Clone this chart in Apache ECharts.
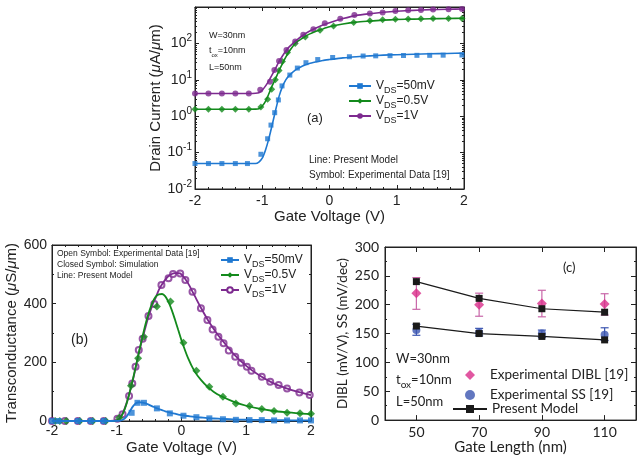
<!DOCTYPE html>
<html>
<head>
<meta charset="utf-8">
<script src="https://cdn.jsdelivr.net/npm/echarts@6/dist/echarts.min.js"></script>
<style>
  html, body { margin: 0; padding: 0; background: #fff; }
  #chart { width: 637px; height: 456px; }
</style>
</head>
<body>
<div id="chart"></div>
<script>
// ---------- (a) drain current vs gate voltage ----------
const vgModelA = [-2, -1.5, -1.2, -1.1, -1.05, -1.0, -0.95, -0.9, -0.85, -0.8, -0.75, -0.7, -0.65, -0.6, -0.5, -0.4, -0.3, -0.2, -0.1, 0, 0.2, 0.4, 0.6, 0.8, 1.0, 1.25, 1.5, 1.75, 2.0];
const idModel50mV = [0.05, 0.05, 0.05, 0.05, 0.055, 0.07, 0.12, 0.25, 0.6, 1.5, 3.5, 6.5, 10, 13, 19, 24, 28, 31, 34, 36, 40, 43, 45.5, 47.5, 49, 50.5, 52, 53, 54];
const idModel05V = [1.55, 1.55, 1.55, 1.56, 1.6, 1.9, 2.6, 4.2, 7, 11, 18, 28, 42, 60, 105, 140, 180, 215, 250, 285, 340, 385, 410, 435, 452, 465, 475, 483, 490];
const idModel1V = [4.2, 4.2, 4.2, 4.25, 4.4, 5.2, 6.8, 9.5, 14, 21, 32, 45, 62, 80, 118, 165, 215, 265, 320, 370, 480, 590, 655, 715, 765, 810, 845, 868, 885];

const vgExp50mV = [-2, -1.8, -1.6, -1.4, -1.22, -1.02, -0.92, -0.87, -0.815, -0.76, -0.706, -0.59, -0.478, -0.35, -0.175, 0.047, 0.296, 0.5, 0.687, 0.9, 1.1, 1.3, 1.49, 1.69, 1.97];
const idExp50mV = [0.05, 0.05, 0.05, 0.05, 0.05, 0.09, 0.24, 0.57, 1.25, 2.8, 6.8, 13.5, 21, 29.5, 36, 41, 43, 45, 45.5, 46, 46.5, 47, 47, 47.5, 48];
const vgExp05V = [-2, -1.8, -1.6, -1.4, -1.2, -1.02, -0.92, -0.86, -0.806, -0.75, -0.70, -0.625, -0.51, -0.36, -0.14, 0.06, 0.36, 0.6, 0.79, 0.98, 1.17, 1.36, 1.54, 1.77, 1.97];
const idExp05V = [1.55, 1.55, 1.55, 1.55, 1.55, 1.8, 2.9, 5.5, 10, 18, 32, 56, 100, 150, 230, 300, 375, 420, 445, 460, 470, 475, 480, 480, 485];
const vgExp1V = [-2, -1.8, -1.6, -1.4, -1.2, -1.03, -0.885, -0.82, -0.75, -0.64, -0.51, -0.39, -0.24, -0.07, 0.16, 0.37, 0.6, 0.79, 0.98, 1.17, 1.36, 1.54, 1.77, 1.97];
const idExp1V = [4.2, 4.2, 4.2, 4.2, 4.2, 5.3, 8.9, 18.6, 33, 66, 112, 174, 245, 357, 475, 600, 660, 710, 780, 810, 830, 850, 870, 880];

// ---------- (b) transconductance vs gate voltage ----------
const vgModelB = [-2, -1.5, -1.1, -1.0, -0.95, -0.9, -0.85, -0.8, -0.75, -0.7, -0.65, -0.6, -0.55, -0.5, -0.45, -0.4, -0.35, -0.3, -0.25, -0.2, -0.15, -0.1, -0.05, 0, 0.1, 0.2, 0.3, 0.4, 0.5, 0.6, 0.8, 1.0, 1.2, 1.4, 1.6, 1.8, 2.0];
const gmModel50mV = [0, 0, 0, 0.5, 1, 5, 15, 32, 50, 61, 64, 63, 60, 55, 50, 45, 41, 37, 33, 30, 27, 25, 22, 20, 17, 14, 12, 10, 8.5, 7.5, 5.5, 4.5, 3.8, 3, 2.6, 2.2, 2];
const gmModel05V = [0, 0, 0, 2, 10, 28, 58, 98, 143, 192, 242, 290, 335, 373, 403, 423, 432, 433, 425, 405, 378, 345, 310, 275, 215, 170, 140, 117, 99, 86, 66, 52, 42, 35, 30, 26, 23];
const gmModel1V = [0, 0, 0, 3, 12, 30, 60, 98, 140, 190, 240, 283, 325, 362, 395, 420, 447, 466, 482, 494, 501, 504, 504, 500, 470, 428, 386, 347, 313, 283, 230, 188, 156, 131, 113, 99, 88];

const vgExpB50mV = [-2, -1.9, -1.6, -1.4, -1.2, -0.77, -0.68, -0.58, -0.38, -0.18, 0.03, 0.23, 0.43, 0.64, 0.84, 1.05, 1.24, 1.43, 1.63, 1.83, 2.0];
const gmExpB50mV = [0, 0, 0, 0, 0, 28, 62, 62, 43, 26, 18, 13, 9, 6, 4, 3, 3, 2, 2, 2, 2];
const vgExpB05V = [-1.95, -1.88, -1.78, -1.57, -1.37, -1.17, -0.96, -0.78, -0.67, -0.58, -0.38, -0.17, 0.03, 0.23, 0.43, 0.64, 0.84, 1.05, 1.24, 1.43, 1.63, 1.83, 2.0];
const gmExpB05V = [0, 0, 0, 0, 0, 0, 11, 120, 214, 287, 390, 407, 267, 171, 117, 83, 60, 51, 41, 34, 28, 26, 25];
const vgExpB1V = [-2, -1.8, -1.6, -1.4, -1.2, -0.99, -0.91, -0.81, -0.76, -0.71, -0.66, -0.6, -0.51, -0.42, -0.31, -0.2, -0.13, -0.02, 0.06, 0.17, 0.3, 0.4, 0.48, 0.57, 0.65, 0.73, 0.83, 0.92, 1.01, 1.08, 1.24, 1.37, 1.5, 1.63, 1.82, 1.98];
const gmExpB1V = [0, 0, 0, 0, 0, 8, 23, 85, 128, 185, 242, 280, 358, 399, 464, 487, 501, 503, 481, 441, 384, 344, 312, 287, 265, 240, 219, 199, 185, 171, 151, 134, 123, 111, 97, 89];

// ---------- (c) DIBL and SS vs gate length ----------
const gateLength = ['50', '70', '90', '110'];
const diblModel = [240, 211, 193, 187];
const ssModel = [163, 150, 145, 139];
const diblExp = [220, 200, 202, 201];
const diblExpLow = [192, 180, 179, 182];
const diblExpHigh = [247, 220, 225, 219];
const ssExp = [156, 152, 150, 148];
const ssExpLow = [147, 146, 143, 138];
const ssExpHigh = [166, 159, 156, 160];

// ---------- styling ----------
const FONT = '"Liberation Sans", Arial, Helvetica, sans-serif';
const FONT_C = 'Lato, "Open Sans", sans-serif';
const INK = '#222';
const BLUE = '#1f78d1';
const GREEN = '#138a1c';
const PURPLE = '#7d2a8f';
const PINK = '#d92d8a';
const PINK_BAR = '#c866a8';
const NAVY = '#3b55b0';

const pairs = (xs, ys) => xs.map((x, i) => [x, ys[i]]);

// minor decade ticks for the log axis
const logMinor = [];
for (let e = -2; e < 3; e++) {
  for (let k = 2; k <= 9; k++) logMinor.push(+(k * Math.pow(10, e)).toPrecision(3));
}

// every axis sits on the plot frame, never on a zero crossing
const lineOn = () => ({ show: true, onZero: false, lineStyle: { color: INK, width: 1 } });
const lineOff = () => ({ show: false, onZero: false });
const tickIn = (len) => ({ show: true, inside: true, length: len, lineStyle: { color: INK, width: 1 } });
const minorIn = (n) => ({ show: true, splitNumber: n, length: 2, lineStyle: { color: INK, width: 1 } });
const noSplit = { show: false };

const legendNames = {
  a50: '50mV', a05: '0.5V', a1: '1V',
  b50: '50mV', b05: '0.5V', b1: '1V'
};
const vdsFmt = (name) => '{v|V}{s|DS}{v|=' + legendNames[name] + '}';
const vdsRich = (size) => ({
  v: { fontSize: size, fontFamily: FONT, color: INK, lineHeight: 18 },
  s: { fontSize: size - 3, fontFamily: FONT, color: INK, verticalAlign: 'bottom', lineHeight: 7 }
});

const muName = (pre, unit) => '{t|' + pre + ' (}{m|μ}{t|' + unit + '/}{m|μ}{t|m)}';
const muRich = (size) => ({
  t: { fontSize: size, fontFamily: FONT, color: INK },
  m: { fontSize: size, fontFamily: FONT, color: INK, fontStyle: 'italic' }
});

const subText = (x, y, pre, sub, post, size, family) => ({
  type: 'text', x: x, y: y,
  style: {
    text: '{a|' + pre + '}{s|' + sub + '}{a|' + post + '}',
    verticalAlign: 'middle', align: 'left',
    rich: {
      a: { fontSize: size, fontFamily: family, fill: INK, lineHeight: size + 6 },
      s: { fontSize: size - 3, fontFamily: family, fill: INK, verticalAlign: 'bottom', lineHeight: 6 }
    }
  }
});
const plainText = (x, y, text, size, family, align) => ({
  type: 'text', x: x, y: y,
  style: { text: text, fontSize: size, fontFamily: family, fill: INK, verticalAlign: 'middle', align: align || 'left' }
});

const chart = echarts.init(document.getElementById('chart'), null, { renderer: 'canvas' });

const errorBars = (lows, highs, color) => ({
  type: 'custom', xAxisIndex: 4, yAxisIndex: 6, z: 2,
  data: lows.map((lo, i) => [i, lo, highs[i]]),
  renderItem: (params, api) => {
    const pLo = api.coord([api.value(0), api.value(1)]);
    const pHi = api.coord([api.value(0), api.value(2)]);
    const w = 4;
    const st = { stroke: color, lineWidth: 1.2 };
    return {
      type: 'group',
      children: [
        { type: 'line', shape: { x1: pLo[0], y1: pLo[1], x2: pHi[0], y2: pHi[1] }, style: st },
        { type: 'line', shape: { x1: pLo[0] - w, y1: pLo[1], x2: pLo[0] + w, y2: pLo[1] }, style: st },
        { type: 'line', shape: { x1: pHi[0] - w, y1: pHi[1], x2: pHi[0] + w, y2: pHi[1] }, style: st }
      ]
    };
  }
});

const frame = { show: true, borderColor: INK, borderWidth: 1, backgroundColor: 'transparent' };

const option = {
  backgroundColor: '#fff',
  animation: false,
  grid: [
    Object.assign({ left: 195, top: 7, width: 269, height: 182 }, frame),
    Object.assign({ left: 52, top: 245, width: 259, height: 176 }, frame),
    Object.assign({ left: 385, top: 247, width: 251, height: 175 }, frame)
  ],
  xAxis: [
    {
      gridIndex: 0, type: 'value', min: -2, max: 2, interval: 1, position: 'bottom',
      axisLine: lineOn(), axisTick: tickIn(4), minorTick: minorIn(5), splitLine: noSplit,
      axisLabel: { fontSize: 14, fontFamily: FONT, color: INK, margin: 5 },
      name: 'Gate Voltage (V)', nameLocation: 'middle', nameGap: 12,
      nameTextStyle: { fontSize: 15, fontFamily: FONT, color: INK }
    },
    {
      gridIndex: 0, type: 'value', min: -2, max: 2, interval: 1, position: 'top',
      axisLine: lineOn(), axisTick: tickIn(4), minorTick: minorIn(5), splitLine: noSplit,
      axisLabel: { show: false }
    },
    {
      gridIndex: 1, type: 'value', min: -2, max: 2, interval: 1, position: 'bottom',
      axisLine: lineOn(), axisTick: tickIn(4), minorTick: minorIn(5), splitLine: noSplit,
      axisLabel: { fontSize: 14, fontFamily: FONT, color: INK, margin: 3 },
      name: 'Gate Voltage (V)', nameLocation: 'middle', nameGap: 19,
      nameTextStyle: { fontSize: 15, fontFamily: FONT, color: INK }
    },
    {
      gridIndex: 1, type: 'value', min: -2, max: 2, interval: 1, position: 'top',
      axisLine: lineOn(), axisTick: tickIn(4), minorTick: minorIn(5), splitLine: noSplit,
      axisLabel: { show: false }
    },
    {
      gridIndex: 2, type: 'category', data: gateLength, boundaryGap: true, position: 'bottom',
      axisLine: lineOn(), axisTick: Object.assign(tickIn(5), { alignWithLabel: true }), splitLine: noSplit,
      axisLabel: { fontSize: 14, fontFamily: FONT_C, color: INK, margin: 5 },
      name: 'Gate Length (nm)', nameLocation: 'middle', nameGap: 19,
      nameTextStyle: { fontSize: 15, fontFamily: FONT_C, color: INK }
    },
    {
      gridIndex: 2, type: 'category', data: gateLength, boundaryGap: true, position: 'top',
      axisLine: lineOn(), axisTick: Object.assign(tickIn(5), { alignWithLabel: true }), splitLine: noSplit,
      axisLabel: { show: false }
    }
  ],
  yAxis: [
    {
      gridIndex: 0, type: 'log', logBase: 10, min: 0.01, max: 1000, position: 'left',
      axisLine: lineOn(), axisTick: tickIn(4), splitLine: noSplit,
      axisLabel: {
        margin: 3, showMaxLabel: false,
        formatter: (v) => '{b|10}{s|' + Math.round(Math.log10(v)) + '}',
        rich: {
          b: { fontSize: 14, fontFamily: FONT, color: INK, lineHeight: 20 },
          s: { fontSize: 10, fontFamily: FONT, color: INK, verticalAlign: 'top', lineHeight: 10 }
        }
      },
      name: muName('Drain Current', 'A'), nameLocation: 'middle', nameGap: 30,
      nameTextStyle: { rich: muRich(15) }
    },
    {
      gridIndex: 0, type: 'log', logBase: 10, min: 0.01, max: 1000, position: 'left',
      axisLine: lineOff(), splitLine: noSplit, axisLabel: { show: false },
      axisTick: Object.assign(tickIn(2), { customValues: logMinor })
    },
    {
      gridIndex: 0, type: 'log', logBase: 10, min: 0.01, max: 1000, position: 'right',
      axisLine: lineOn(), axisTick: tickIn(4), splitLine: noSplit, axisLabel: { show: false }
    },
    {
      gridIndex: 0, type: 'log', logBase: 10, min: 0.01, max: 1000, position: 'right',
      axisLine: lineOff(), splitLine: noSplit, axisLabel: { show: false },
      axisTick: Object.assign(tickIn(2), { customValues: logMinor })
    },
    {
      gridIndex: 1, type: 'value', min: 0, max: 600, interval: 200, position: 'left',
      axisLine: lineOn(), axisTick: tickIn(4), minorTick: minorIn(2), splitLine: noSplit,
      axisLabel: { fontSize: 14, fontFamily: FONT, color: INK, margin: 5 },
      name: muName('Transconductance', 'S'), nameLocation: 'middle', nameGap: 31,
      nameTextStyle: { rich: muRich(15) }
    },
    {
      gridIndex: 1, type: 'value', min: 0, max: 600, interval: 200, position: 'right',
      axisLine: lineOn(), axisTick: tickIn(4), minorTick: minorIn(2), splitLine: noSplit,
      axisLabel: { show: false }
    },
    {
      gridIndex: 2, type: 'value', min: 0, max: 300, interval: 50, position: 'left',
      axisLine: lineOn(), axisTick: tickIn(5), minorTick: minorIn(2), splitLine: noSplit,
      axisLabel: { fontSize: 14, fontFamily: FONT_C, color: INK, margin: 6 },
      name: 'DIBL (mV/V), SS (mV/dec)', nameLocation: 'middle', nameGap: 35,
      nameTextStyle: { fontSize: 13.5, fontFamily: FONT_C, color: INK }
    },
    {
      gridIndex: 2, type: 'value', min: 0, max: 300, interval: 50, position: 'right',
      axisLine: lineOn(), axisTick: tickIn(5), minorTick: minorIn(2), splitLine: noSplit,
      axisLabel: { show: false }
    }
  ],
  legend: [
    {
      data: ['a50', 'a05', 'a1'], orient: 'vertical', left: 348, top: 80, padding: 0,
      itemWidth: 22, itemHeight: 7, itemGap: 0, selectedMode: false,
      formatter: vdsFmt, textStyle: { color: INK, rich: vdsRich(12) }
    },
    {
      data: ['b50', 'b05', 'b1'], orient: 'vertical', left: 220, top: 254, padding: 0,
      itemWidth: 18, itemHeight: 7, itemGap: 0, selectedMode: false,
      formatter: vdsFmt, textStyle: { color: INK, rich: vdsRich(12) }
    },
    {
      data: ['Experimental DIBL [19]', 'Experimental SS [19]'],
      orient: 'vertical', left: 465, top: 368, padding: 0,
      itemWidth: 10, itemHeight: 10, itemGap: 6, selectedMode: false,
      textStyle: { color: INK, fontFamily: FONT_C, fontSize: 13.5, padding: [0, 0, 0, 10] }
    },
    {
      data: ['Present Model'],
      orient: 'vertical', left: 452, top: 402, padding: 0,
      itemWidth: 34, itemHeight: 10, selectedMode: false,
      textStyle: { color: INK, fontFamily: FONT_C, fontSize: 13.5 }
    }
  ],
  series: [
    // (a) model curves
    { name: 'a50', type: 'line', xAxisIndex: 0, yAxisIndex: 0, data: pairs(vgModelA, idModel50mV),
      smooth: 0.2, showSymbol: false, symbol: 'rect', color: BLUE, lineStyle: { width: 1.6 } },
    { name: 'a05', type: 'line', xAxisIndex: 0, yAxisIndex: 0, data: pairs(vgModelA, idModel05V),
      smooth: 0.2, showSymbol: false, symbol: 'diamond', color: GREEN, lineStyle: { width: 1.6 } },
    { name: 'a1', type: 'line', xAxisIndex: 0, yAxisIndex: 0, data: pairs(vgModelA, idModel1V),
      smooth: 0.2, showSymbol: false, symbol: 'circle', color: PURPLE, lineStyle: { width: 1.6 } },
    // (a) measured points
    { type: 'scatter', xAxisIndex: 0, yAxisIndex: 0, data: pairs(vgExp50mV, idExp50mV),
      symbol: 'rect', symbolSize: 5, color: BLUE },
    { type: 'scatter', xAxisIndex: 0, yAxisIndex: 0, data: pairs(vgExp05V, idExp05V),
      symbol: 'diamond', symbolSize: 7, color: GREEN },
    { type: 'scatter', xAxisIndex: 0, yAxisIndex: 0, data: pairs(vgExp1V, idExp1V),
      symbol: 'circle', symbolSize: 6, color: PURPLE },

    // (b) model curves
    { name: 'b1', type: 'line', xAxisIndex: 2, yAxisIndex: 4, data: pairs(vgModelB, gmModel1V),
      smooth: 0.3, showSymbol: false, symbol: 'emptyCircle', color: PURPLE, lineStyle: { width: 1.8 } },
    { name: 'b05', type: 'line', xAxisIndex: 2, yAxisIndex: 4, data: pairs(vgModelB, gmModel05V),
      smooth: 0.3, showSymbol: false, symbol: 'diamond', color: GREEN, lineStyle: { width: 1.8 } },
    { name: 'b50', type: 'line', xAxisIndex: 2, yAxisIndex: 4, data: pairs(vgModelB, gmModel50mV),
      smooth: 0.3, showSymbol: false, symbol: 'rect', color: BLUE, lineStyle: { width: 1.8 } },
    // (b) points
    { type: 'scatter', xAxisIndex: 2, yAxisIndex: 4, data: pairs(vgExpB1V, gmExpB1V),
      symbol: 'emptyCircle', symbolSize: 6, color: PURPLE, itemStyle: { borderWidth: 1.2 } },
    { type: 'scatter', xAxisIndex: 2, yAxisIndex: 4, data: pairs(vgExpB05V, gmExpB05V),
      symbol: 'diamond', symbolSize: 8, color: GREEN },
    { type: 'scatter', xAxisIndex: 2, yAxisIndex: 4, data: pairs(vgExpB50mV, gmExpB50mV),
      symbol: 'rect', symbolSize: 6, color: BLUE },

    // (c) error bars, measured points, model
    errorBars(diblExpLow, diblExpHigh, PINK_BAR),
    errorBars(ssExpLow, ssExpHigh, NAVY),
    { name: 'Experimental DIBL [19]', type: 'scatter', xAxisIndex: 4, yAxisIndex: 6, data: diblExp,
      symbol: 'diamond', symbolSize: 10, color: PINK, z: 3 },
    { name: 'Experimental SS [19]', type: 'scatter', xAxisIndex: 4, yAxisIndex: 6, data: ssExp,
      symbol: 'circle', symbolSize: 8, color: NAVY, z: 3 },
    { name: 'Present Model', type: 'line', xAxisIndex: 4, yAxisIndex: 6, data: diblModel,
      symbol: 'rect', symbolSize: 7, showSymbol: true, color: '#1a1a1a', lineStyle: { width: 1.2 }, z: 4 },
    { name: 'Present Model', type: 'line', xAxisIndex: 4, yAxisIndex: 6, data: ssModel,
      symbol: 'rect', symbolSize: 7, showSymbol: true, color: '#1a1a1a', lineStyle: { width: 1.2 }, z: 4 }
  ],
  graphic: [
    // (a) annotations
    plainText(209, 36, 'W=30nm', 9, FONT),
    subText(209, 51, 't', 'ox', '=10nm', 9, FONT),
    plainText(209, 68, 'L=50nm', 9, FONT),
    plainText(307, 118, '(a)', 13, FONT),
    plainText(309, 160, 'Line: Present Model', 10, FONT),
    plainText(309, 175, 'Symbol: Experimental Data [19]', 10, FONT),
    // (b) annotations
    plainText(57, 254, 'Open Symbol: Experimental Data [19]', 8.5, FONT),
    plainText(57, 265, 'Closed Symbol: Simulation', 8.5, FONT),
    plainText(57, 276, 'Line: Present Model', 8.5, FONT),
    plainText(71, 340, '(b)', 14, FONT),
    // (c) annotations
    plainText(396, 359, 'W=30nm', 13, FONT_C),
    subText(396, 380, 't', 'ox', '=10nm', 13, FONT_C),
    plainText(396, 402, 'L=50nm', 13, FONT_C),
    plainText(563, 268, '(c)', 13, FONT_C)
  ]
};

chart.setOption(option);
</script>
</body>
</html>
